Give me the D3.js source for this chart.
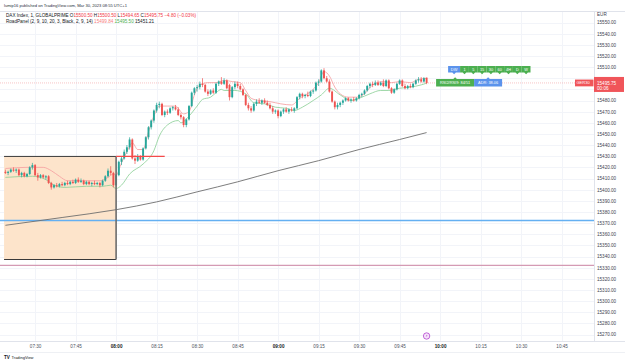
<!DOCTYPE html>
<html><head><meta charset="utf-8">
<script src="https://cdn.jsdelivr.net/npm/d3@7"></script>
<style>
html,body{margin:0;padding:0;background:#fff;}
svg{display:block;font-family:"Liberation Sans",Arial,sans-serif;}
</style></head><body>
<svg id="c" width="625" height="362"></svg>
<script>
// ---------- DATA ----------
const firstCandle = "07:19";   // 1-minute candles
const opens = [15416,15415,15416,15418,15417,15418,15413,15415,15412,15414,15420,15422,15413,15411,15413,15411,15412,15406,15402,15404,15403,15405,15404,15406,15405,15407,15406,15409,15407,15408,15405,15407,15405,15406,15405,15406,15404,15408,15412,15417,15415,
15404,15413,15425,15428,15434,15438,15445,15428,15426,15430,15427,15437,15447,15456,15462,15471,15476,15477,15467,15470,15469,15473,15474,15472,15467,15465,15458,15463,15475,15487,15491,15492,15495,15494,15488,15486,15489,15487,15495,
15497,15495,15498,15494,15483,15492,15495,15493,15490,15485,15476,15473,15471,15477,15479,15478,15480,15478,15476,15473,15470,15471,15466,15470,15472,15470,15472,15471,15473,15483,15486,15484,15485,15484,15488,15489,15496,
15497,15507,15500,15497,15488,15479,15474,15476,15478,15480,15482,15480,15481,15480,15482,15485,15486,15489,15493,15495,15494,15496,15494,15496,15493,15498,15491,15487,15490,15495,15498,15493,15491,15493,15492,15495,15498,15499,15497,15500.5];
const highs = [15418,15417,15419,15420,15419,15419,15416,15416,15415,15421,15424,15423,15415,15414,15414,15413,15413,15407,15405,15406,15406,15407,15407,15408,15408,15409,15410,15411,15410,15409,15408,15408,15407,15408,15407,15407,15409,15413,15419,15421,15416,
15414,15426,15430,15436,15440,15447,15446,15431,15432,15431,15438,15448,15457,15463,15472,15478,15479,15478,15471,15472,15474,15475,15476,15474,15469,15466,15464,15476,15488,15492,15494,15497,15500,15495,15490,15490,15491,15496,15498,
15501,15500,15499,15495,15493,15497,15497,15495,15491,15486,15478,15475,15478,15481,15482,15481,15482,15480,15478,15475,15472,15472,15471,15473,15474,15473,15474,15474,15484,15487,15487,15486,15488,15489,15490,15497,15499,
15508,15509,15502,15499,15489,15480,15478,15479,15481,15483,15483,15482,15483,15483,15486,15487,15490,15494,15496,15497,15498,15498,15497,15499,15499,15499,15492,15491,15496,15499,15499,15495,15494,15495,15496,15499,15501,15501,15501,15500.5];
const lows = [15414,15413,15415,15416,15415,15412,15411,15411,15411,15413,15418,15412,15408,15410,15410,15409,15405,15400,15401,15402,15402,15403,15403,15404,15404,15405,15405,15406,15406,15404,15404,15404,15403,15404,15404,15402,15403,15407,15411,15413,15402,
15403,15412,15422,15427,15432,15436,15427,15423,15425,15426,15426,15436,15445,15454,15460,15469,15473,15466,15465,15467,15468,15471,15471,15466,15463,15456,15456,15462,15474,15485,15488,15490,15492,15487,15484,15485,15486,15486,15493,
15494,15494,15490,15480,15482,15490,15491,15489,15484,15475,15471,15469,15470,15475,15477,15476,15477,15475,15472,15468,15468,15464,15465,15468,15469,15468,15470,15469,15472,15481,15482,15482,15483,15483,15486,15488,15493,
15496,15499,15496,15487,15478,15472,15472,15474,15476,15479,15479,15478,15479,15479,15481,15483,15485,15488,15491,15492,15493,15493,15493,15492,15492,15490,15486,15486,15489,15494,15492,15490,15490,15491,15491,15494,15496,15496,15496,15494.65];
const closes = [15415,15416,15418,15417,15418,15413,15415,15412,15414,15420,15422,15413,15411,15413,15411,15412,15406,15402,15404,15403,15405,15404,15406,15405,15407,15406,15409,15407,15408,15405,15407,15405,15406,15405,15406,15404,15408,15412,15417,15415,15404,
15413,15425,15428,15434,15438,15445,15428,15426,15430,15427,15437,15447,15456,15462,15471,15476,15477,15467,15470,15469,15473,15474,15472,15467,15465,15458,15463,15475,15487,15491,15492,15495,15494,15488,15486,15489,15487,15495,15497,
15495,15498,15491,15483,15492,15495,15493,15490,15485,15476,15473,15471,15477,15479,15478,15480,15478,15476,15473,15470,15471,15466,15470,15472,15470,15472,15471,15473,15483,15486,15484,15485,15484,15488,15489,15496,15497,
15507,15500,15497,15488,15479,15474,15476,15478,15480,15482,15480,15481,15480,15482,15485,15486,15489,15493,15495,15494,15496,15494,15496,15493,15498,15491,15487,15490,15495,15498,15493,15491,15493,15492,15495,15498,15499,15497,15500,15495.75];

// RoadPanel upper (red) band, sampled
const upperTimes = ["07:19","07:27","07:33","07:36","07:39","07:42","07:54","07:57","07:59","08:00","08:02","08:04","08:06","08:08","08:10","08:12","08:14","08:16","08:19","08:22","08:25","08:27","08:29","08:31","08:34","08:37","08:40","08:43","08:46","08:48","08:50","08:53","08:57","09:01","09:05","09:08","09:12","09:15","09:17","09:19","09:21","09:23","09:26","09:29","09:32","09:35","09:39","09:42","09:45","09:49","09:52","09:55"];
const upperValues = [15419,15420,15420,15417,15412,15408,15408,15411,15414,15413,15424,15434,15442,15436,15436,15452,15466,15475,15475,15475,15468,15470,15485,15494,15496,15496,15498,15497,15496,15489,15482,15480,15479,15477,15476,15482,15488,15496,15506,15502,15492,15486,15483,15483,15486,15494,15497,15496,15497,15496,15499,15499.84];
// RoadPanel lower (green) band, sampled
const lowerTimes = ["07:19","07:29","07:34","07:37","07:41","07:49","07:55","07:58","08:00","08:02","08:05","08:10","08:14","08:16","08:19","08:23","08:24","08:27","08:30","08:32","08:35","08:37","08:39","08:40","08:44","08:48","08:51","08:55","08:59","09:03","09:06","09:09","09:13","09:16","09:19","09:23","09:27","09:30","09:34","09:38","09:41","09:45","09:49","09:53","09:55"];
const lowerValues = [15411,15412,15409,15404,15402,15403,15403,15404,15401,15404,15414,15423,15435,15448,15458,15462,15460,15466,15475,15481,15483,15487,15490,15489,15489,15486,15478,15477,15474,15473,15471,15474,15480,15485,15491,15485,15480,15482,15486,15489,15489,15491,15492,15494,15495.5];
// RoadPanel slow (black) line, sampled
const slowTimes = ["07:19","07:40","08:00","08:15","08:30","08:45","09:00","09:15","09:30","09:45","09:55"];
const slowValues = [15368,15375,15382,15389,15398,15407,15417,15426,15436,15445,15451.21];

// drawings
const boxStart = "07:18:30", boxEnd = "08:00", boxHigh = 15429.8, boxLow = 15337.3;
const boxExtEnd = "08:18";
const blueLevel = 15372.3, pinkLevel = 15332;
const lastPrice = 15495.75;

const priceTicks = [15270,15280,15290,15300,15310,15320,15330,15340,15350,15360,15370,15380,15390,15400,15410,15420,15430,15440,15450,15460,15470,15480,15490,15500,15510,15520,15530,15540,15550];
const timeTicks = ["07:30","07:45","08:00","08:15","08:30","08:45","09:00","09:15","09:30","09:45","10:00","10:15","10:30","10:45"];
const tfButtons = ["1","5","15","30","60","4H","D","W"];

// ---------- CHART ----------
const svg = d3.select("#c");
const W = 625, H = 362, plotR = 594, plotT = 11, plotB = 341;
const FS = 4.6;
const parseT = s => { const [h,m,sec] = s.split(":").map(Number); return new Date(2023,2,30,h,m,sec||0); };
const x = d3.scaleTime().domain([parseT("07:17"), parseT("10:57")]).range([0, plotR]);
const y = d3.scaleLinear().domain([15270, 15550]).range([334.5, 22.5]);
const t0 = parseT(firstCandle);
const candles = closes.map((c,i)=>({t:d3.timeMinute.offset(t0,i), o:opens[i], h:highs[i], l:lows[i], c}));
const UP = "#26a69a", DN = "#ef5350";

svg.append("rect").attr("width",W).attr("height",H).attr("fill","#fff");

svg.append("defs").append("clipPath").attr("id","pc").append("rect")
  .attr("x",0).attr("y",plotT).attr("width",plotR).attr("height",plotB-plotT);
const plot = svg.append("g").attr("clip-path","url(#pc)");

// grid
plot.append("g").selectAll("line").data(priceTicks).join("line")
  .attr("x1",0).attr("x2",plotR).attr("y1",d=>Math.round(y(d))+0.5).attr("y2",d=>Math.round(y(d))+0.5)
  .attr("stroke","#f2f4f9").attr("stroke-width",1);
plot.append("g").selectAll("line").data(timeTicks).join("line")
  .attr("x1",d=>Math.round(x(parseT(d)))+0.5).attr("x2",d=>Math.round(x(parseT(d)))+0.5)
  .attr("y1",plotT).attr("y2",plotB).attr("stroke","#f2f4f9").attr("stroke-width",1);

// box fill
const bx0 = x(parseT(boxStart)), bx1 = x(parseT(boxEnd));
plot.append("rect").attr("x",bx0).attr("y",y(boxHigh)).attr("width",bx1-bx0).attr("height",y(boxLow)-y(boxHigh))
  .attr("fill","#fde4cb");

// horizontal levels
plot.append("line").attr("x1",0).attr("x2",plotR).attr("y1",y(blueLevel)).attr("y2",y(blueLevel))
  .attr("stroke","#64b0f2").attr("stroke-width",1.3);
plot.append("line").attr("x1",0).attr("x2",plotR).attr("y1",y(pinkLevel)).attr("y2",y(pinkLevel))
  .attr("stroke","#d49ab4").attr("stroke-width",1.1);

// last price line
plot.append("line").attr("x1",0).attr("x2",plotR).attr("y1",y(lastPrice)).attr("y2",y(lastPrice))
  .attr("stroke","#f5a3a6").attr("stroke-width",0.8).attr("stroke-dasharray","1,1").attr("opacity",0.8);

// indicator lines
const line = d3.line().x(d=>x(parseT(d[0]))).y(d=>y(d[1])).curve(d3.curveMonotoneX);
plot.append("path").attr("d",line(d3.zip(slowTimes,slowValues))).attr("fill","none")
  .attr("stroke","#6e6e6e").attr("stroke-width",0.9);
plot.append("path").attr("d",line(d3.zip(upperTimes,upperValues))).attr("fill","none")
  .attr("stroke","#f6a0a2").attr("stroke-width",0.85);
plot.append("path").attr("d",line(d3.zip(lowerTimes,lowerValues))).attr("fill","none")
  .attr("stroke","#8fd19a").attr("stroke-width",0.85);

// candles
const cg = plot.append("g");
const bw = 1.9;
cg.selectAll("line").data(candles).join("line")
  .attr("x1",d=>x(d.t)).attr("x2",d=>x(d.t)).attr("y1",d=>y(d.h)).attr("y2",d=>y(d.l))
  .attr("stroke",d=>d.c>=d.o?UP:DN).attr("stroke-width",0.7);
cg.selectAll("rect").data(candles).join("rect")
  .attr("x",d=>x(d.t)-bw/2).attr("width",bw)
  .attr("y",d=>y(Math.max(d.o,d.c))).attr("height",d=>Math.max(0.8,Math.abs(y(d.o)-y(d.c))))
  .attr("fill",d=>d.c>=d.o?UP:DN);

// box borders
plot.append("line").attr("x1",bx0).attr("x2",bx1).attr("y1",y(boxHigh)).attr("y2",y(boxHigh)).attr("stroke","#3a3a3a").attr("stroke-width",1);
plot.append("line").attr("x1",bx0).attr("x2",bx1).attr("y1",y(boxLow)).attr("y2",y(boxLow)).attr("stroke","#3a3a3a").attr("stroke-width",1);
plot.append("line").attr("x1",bx1).attr("x2",bx1).attr("y1",y(boxHigh)).attr("y2",y(boxLow)).attr("stroke","#6d6d6d").attr("stroke-width",1.6);
plot.append("line").attr("x1",bx1).attr("x2",x(parseT(boxExtEnd))).attr("y1",y(boxHigh)).attr("y2",y(boxHigh)).attr("stroke","#f44a4a").attr("stroke-width",1.2);

// ---- info widgets ----
const lx = x(candles[candles.length-1].t);
const wg = svg.append("g").attr("font-size",3.9).attr("fill","#fff").attr("text-anchor","middle");
const rowTop = 66, rowH = 6.5, tip = 1.8;
function downTag(x0,w,col){
  const cx = x0+w/2;
  return wg.append("path").attr("fill",col)
    .attr("d",`M${x0},${rowTop}H${x0+w}V${rowTop+rowH}H${cx+tip}L${cx},${rowTop+rowH+tip}L${cx-tip},${rowTop+rowH}H${x0}Z`);
}
const dwX = lx+21.5;
downTag(dwX,12,"#5b93ec");
wg.append("text").attr("x",dwX+6).attr("y",rowTop+4.7).text("DW");
const bW = 8.8;
tfButtons.forEach((b,i)=>{
  const bx = dwX+12+i*bW;
  downTag(bx,bW,"#4caf50");
  wg.append("text").attr("x",bx+bW/2).attr("y",rowTop+4.7).text(b);
});
function upTag(x0,w,col,label){
  const top=79, h=7.5, cx=x0+w/2;
  wg.append("path").attr("fill",col)
    .attr("d",`M${x0},${top}H${cx-tip}L${cx},${top-tip}L${cx+tip},${top}H${x0+w}V${top+h}H${x0}Z`);
  wg.append("text").attr("x",cx).attr("y",top+5.2).text(label);
}
upTag(lx+9.5,38,"#4caf50","RSI2/RSI9: 84/51");
upTag(lx+47.5,28,"#5b93ec","ADR: 38.06");

// event icon
const ev = svg.append("g").attr("transform",`translate(${lx},336)`);
ev.append("circle").attr("r",3.2).attr("fill","#f6e6fa").attr("stroke","#b242cf").attr("stroke-width",0.8);
ev.append("path").attr("d","M0.6,-2 L-1,0.3 H0.4 L-0.6,2 L1,-0.4 H-0.3Z").attr("fill","#b242cf");

// ---- axes ----
svg.append("line").attr("x1",plotR+0.5).attr("x2",plotR+0.5).attr("y1",plotT).attr("y2",plotB).attr("stroke","#e0e3eb");
svg.append("line").attr("x1",0).attr("x2",W).attr("y1",plotB+0.5).attr("y2",plotB+0.5).attr("stroke","#e0e3eb");
svg.append("line").attr("x1",0).attr("x2",W).attr("y1",plotT+0.5).attr("y2",plotT+0.5).attr("stroke","#e0e3eb");
svg.append("line").attr("x1",0).attr("x2",W).attr("y1",352.5).attr("y2",352.5).attr("stroke","#eef0f4");

const yLab = y(lastPrice);
const yAxis = d3.axisRight(y).tickValues(priceTicks.filter(p=>Math.abs(y(p)-yLab)>8)).tickFormat(d3.format(".2f")).tickSize(0).tickPadding(0);
const ya = svg.append("g").attr("transform",`translate(${plotR+3},0)`).call(yAxis);
ya.select(".domain").remove();
ya.selectAll("text").attr("font-size",FS).attr("fill","#3d4250").attr("font-family","Liberation Sans, Arial, sans-serif");
svg.append("text").attr("x",plotR+3).attr("y",15.5).attr("font-size",FS).attr("fill","#3d4250").text("EUR");

const xAxis = d3.axisBottom(x).tickValues(timeTicks.map(parseT)).tickFormat(d3.timeFormat("%H:%M")).tickSize(0).tickPadding(0);
const xa = svg.append("g").attr("transform",`translate(0,${plotB+3.5})`).call(xAxis);
xa.select(".domain").remove();
xa.selectAll("text").attr("font-size",FS).attr("font-family","Liberation Sans, Arial, sans-serif")
  .attr("font-weight",d=>d.getMinutes()===0?"bold":"normal").attr("fill",d=>d.getMinutes()===0?"#131722":"#4c525e");

// price label
const plg = svg.append("g");
plg.append("rect").attr("x",plotR).attr("y",yLab-6).attr("width",30).attr("height",15).attr("fill","#f0555a");
plg.append("text").attr("x",plotR+3).attr("y",yLab+1.6).attr("font-size",FS).attr("fill","#fff").text(d3.format(".2f")(lastPrice));
plg.append("text").attr("x",plotR+3).attr("y",yLab+7.2).attr("font-size",FS).attr("fill","#fff").text("00:06");
plg.append("rect").attr("x",plotR-19).attr("y",yLab-3.4).attr("width",18.5).attr("height",6.8).attr("fill","#f0555a");
plg.append("text").attr("x",plotR-17.5).attr("y",yLab+1.5).attr("font-size",4).attr("fill","#fff").text("GER30");

// ---- header ----
svg.append("text").attr("x",4).attr("y",6.5).attr("font-size",4.1).attr("fill","#2a2e39")
  .text("lumip16 published on TradingView.com, Mar 30, 2023 08:55 UTC+1");
const red = "#f23645";
const h1 = svg.append("text").attr("x",6).attr("y",16.6).attr("font-size",FS).attr("fill","#131722");
[["DAX Index, 1, GLOBALPRIME  ","#131722"],["O","#131722"],["15500.50 ",red],["H","#131722"],["15500.50 ",red],["L","#131722"],["15494.65 ",red],["C","#131722"],["15495.75 ",red],["−4.80 (−0.03%)",red]]
  .forEach(([t,c])=>h1.append("tspan").attr("fill",c).text(t));
const h2 = svg.append("text").attr("x",6).attr("y",22.8).attr("font-size",FS).attr("fill","#131722");
[["RoadPanel (2, 9, 10, 20, 3, Black, 2, 9, 14)  ","#131722"],["15499.84  ","#f77c80"],["15495.50  ","#4caf50"],["15451.21","#131722"]]
  .forEach(([t,c])=>h2.append("tspan").attr("fill",c).text(t));

// logo
const lg = svg.append("g").attr("transform","translate(4,358.5)");
lg.append("text").attr("x",0).attr("y",0).attr("font-size",4.6).attr("font-weight","bold").attr("fill","#131722").text("TV");
lg.append("text").attr("x",7.5).attr("y",0).attr("font-size",4).attr("fill","#131722").text("TradingView");
</script>
</body></html>
